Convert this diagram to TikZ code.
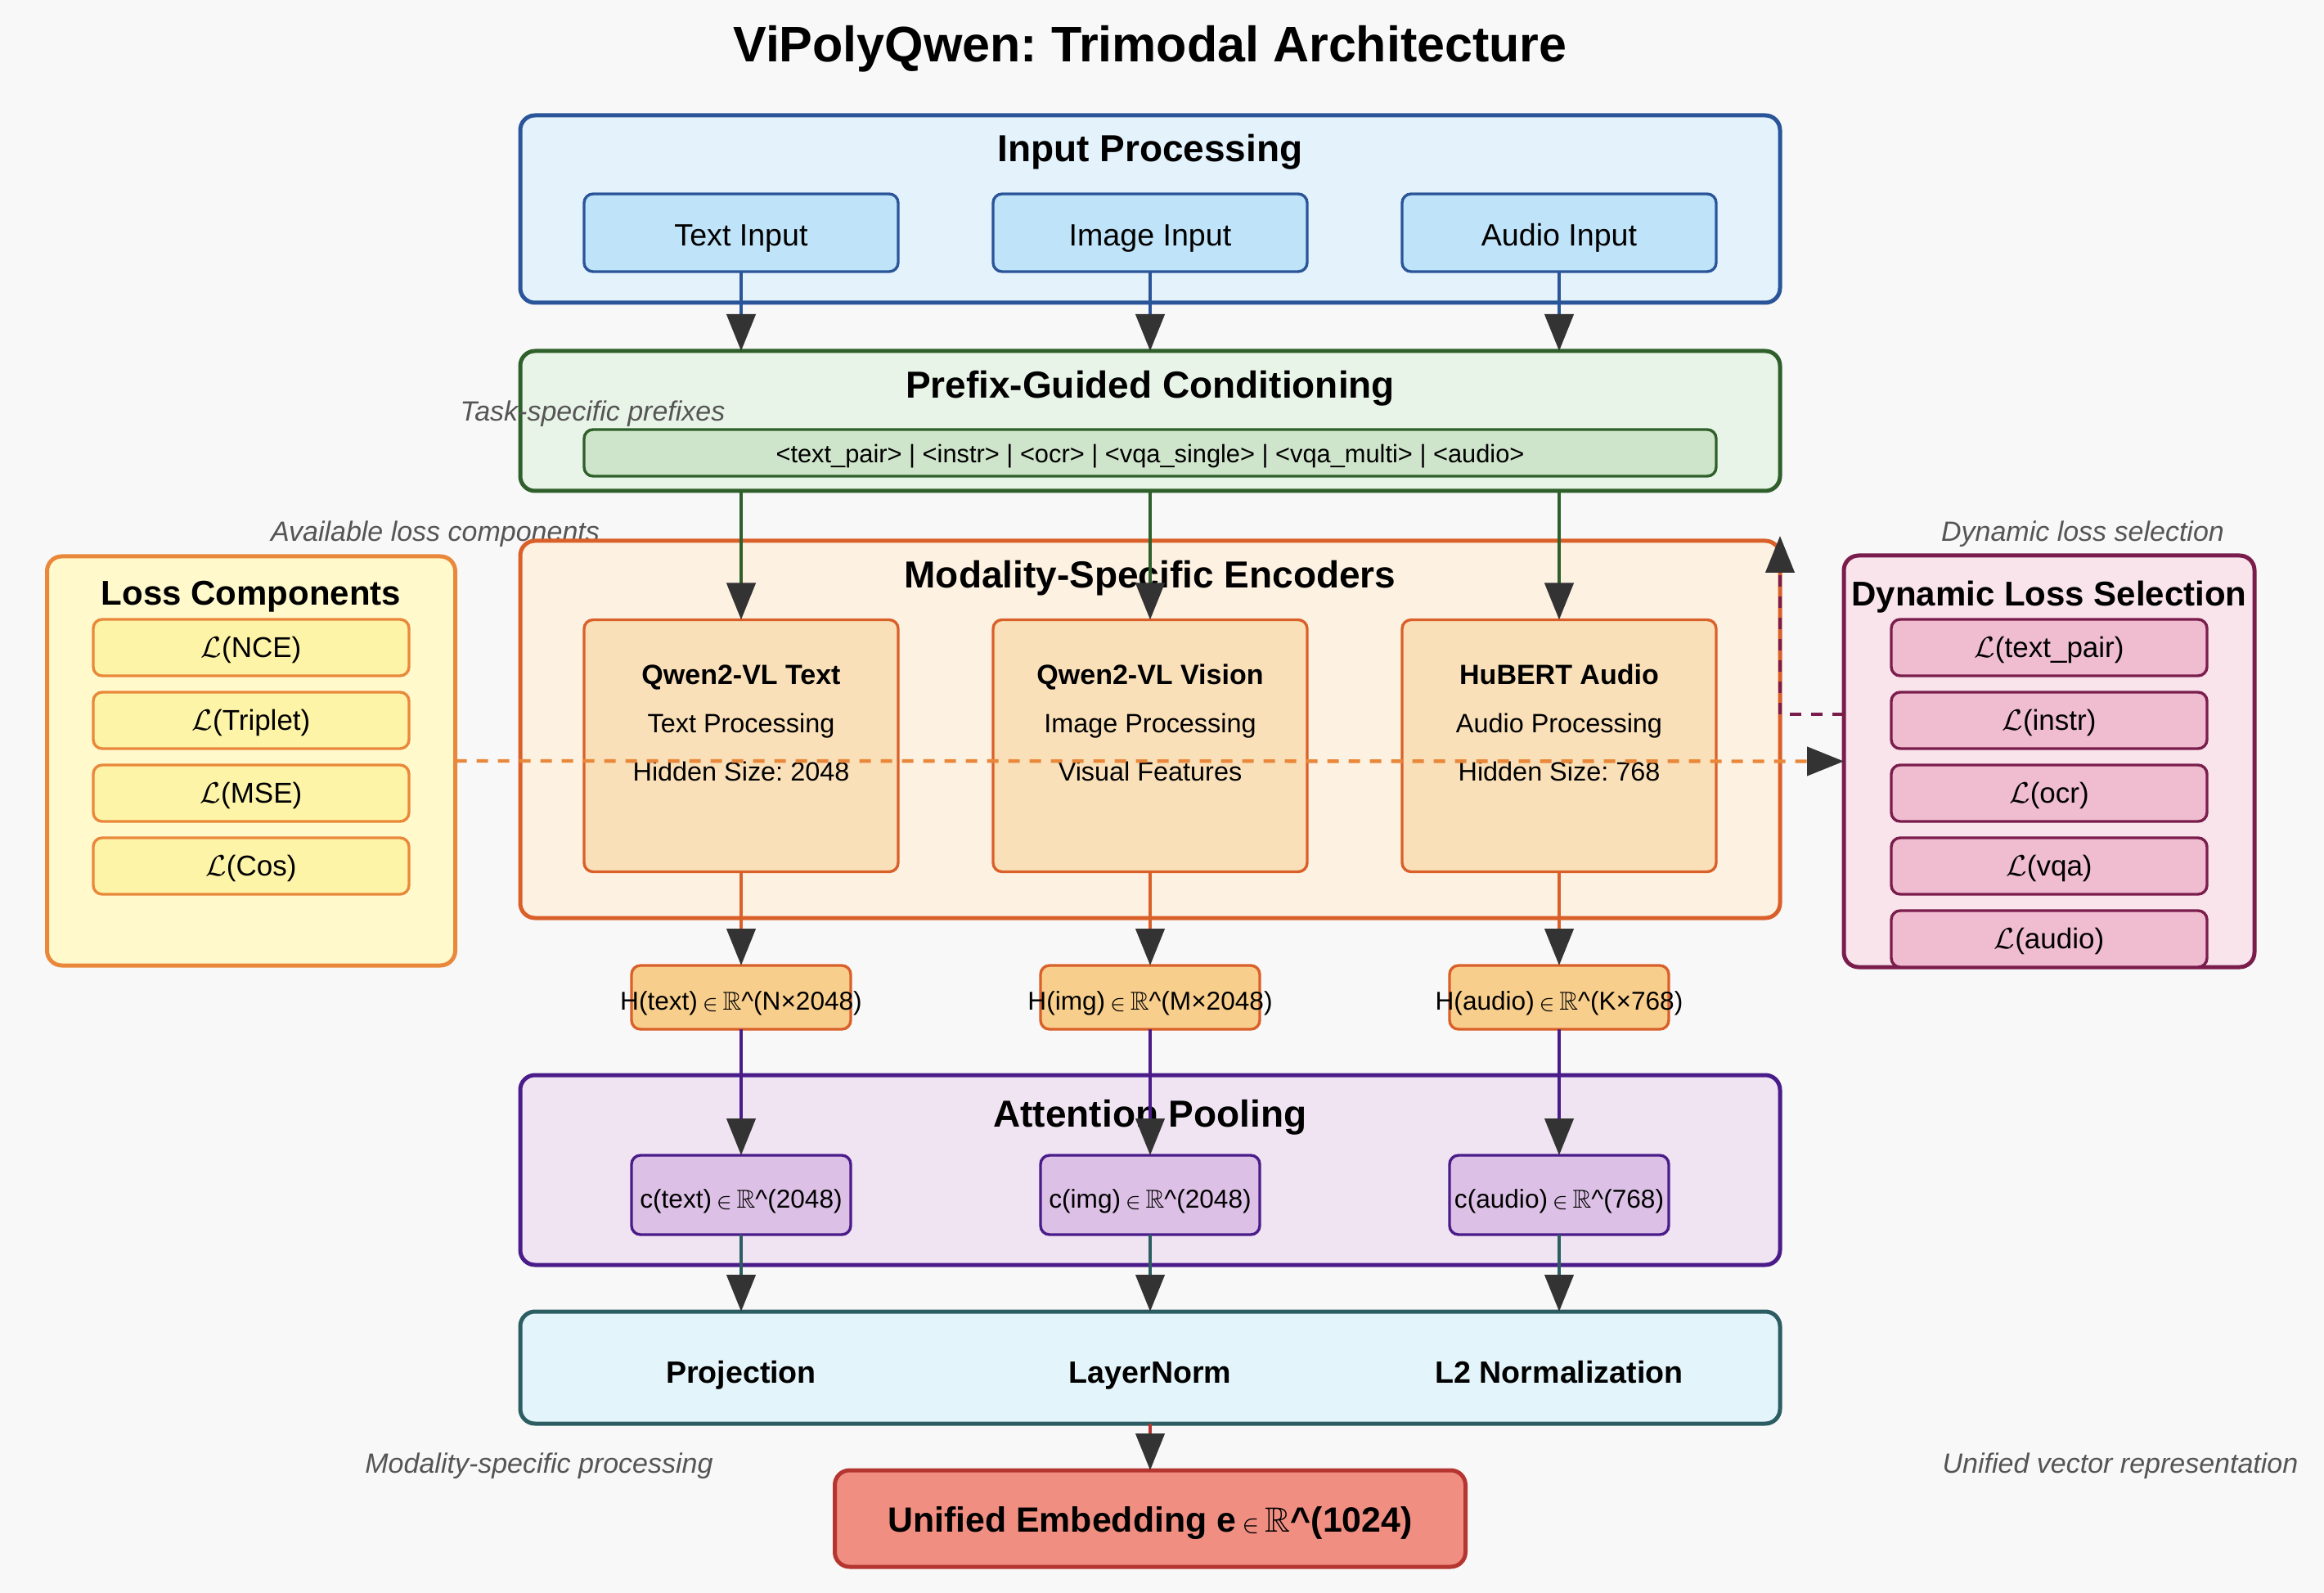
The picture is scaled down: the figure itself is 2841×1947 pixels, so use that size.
\documentclass[tikz,border=0pt]{standalone}
\usepackage{fontspec}
\setmainfont{Liberation Sans}
\usepackage{amssymb}
\usetikzlibrary{arrows.meta}
\definecolor{bgc}{HTML}{F8F8F8}
\definecolor{inF}{HTML}{E4F2FC}\definecolor{inS}{HTML}{2A5599}\definecolor{inI}{HTML}{BFE3F8}
\definecolor{prF}{HTML}{E9F4E8}\definecolor{prS}{HTML}{2F5F2A}\definecolor{prI}{HTML}{CFE5CB}
\definecolor{enF}{HTML}{FDF2E2}\definecolor{enS}{HTML}{DA602A}\definecolor{enI}{HTML}{FAE0B8}
\definecolor{hF}{HTML}{F8CE8C}
\definecolor{atF}{HTML}{F0E4F3}\definecolor{atS}{HTML}{4A1C8A}\definecolor{atI}{HTML}{DCC0E5}
\definecolor{pjF}{HTML}{E3F5FA}\definecolor{pjS}{HTML}{2B5D62}
\definecolor{unF}{HTML}{F08E82}\definecolor{unS}{HTML}{B53630}
\definecolor{lsF}{HTML}{FFF9CC}\definecolor{lsS}{HTML}{E9883A}\definecolor{lsI}{HTML}{FEF4A8}
\definecolor{dyF}{HTML}{F9E4EC}\definecolor{dyS}{HTML}{7A1D4C}\definecolor{dyI}{HTML}{F0BCD0}
\definecolor{notec}{HTML}{555555}
\definecolor{tipc}{HTML}{333333}
\newcommand{\inR}{\,$\scriptstyle\in$\,$\mathbb{R}$}
\newcommand{\Lsym}{$\mathcal{L}$}
\newcommand{\mycaret}{\textasciicircum}
\begin{document}
\frenchspacing
\begin{tikzpicture}[x=0.25pt,y=-0.25pt,
  every node/.append style={text height=0.9em, text depth=0.1em},
  box/.style={draw, rounded corners=4.5pt, line width=1.25pt, inner sep=0pt, outer sep=0pt},
  ibox/.style={draw, rounded corners=2.75pt, line width=0.85pt, inner sep=0pt, outer sep=0pt},
  ttl/.style={font=\fontsize{11.5}{13}\selectfont\bfseries},
  sttl/.style={font=\fontsize{10.5}{12}\selectfont\bfseries},
  note/.style={font=\fontsize{8.5}{10}\selectfont\itshape, text=notec},
  inlab/.style={font=\fontsize{9.4}{11}\selectfont},
  enb/.style={font=\fontsize{8.5}{10}\selectfont\bfseries},
  enr/.style={font=\fontsize{8.1}{10}\selectfont},
  hlab/.style={font=\fontsize{7.9}{9}\selectfont, inner sep=0pt},
  lslab/.style={font=\fontsize{8.75}{10}\selectfont, text height=0.8em, text depth=0.2em},
  pjlab/.style={font=\fontsize{9.4}{11}\selectfont\bfseries},
  conn/.style={line width=1.1pt, -{Triangle[width=8.75pt,length=11.25pt,color=tipc]}},
  dconn/.style={conn, dash pattern=on 3.5pt off 3pt}
]
\fill[bgc] (0,0) rectangle (2841,1947);
\useasboundingbox (0,0) rectangle (2841,1947);

% title
\node[font=\fontsize{15.25}{18}\selectfont\bfseries] (title) at (1406,60) {ViPolyQwen: Trimodal Architecture};

% Input processing
\node[box, draw=inS, fill=inF, minimum width=385pt, minimum height=57.25pt] (inBox) at (1406,255.5) {};
\node[ttl] (inTtl) at (1406,182) {Input Processing};
\node[ibox, draw=inS, fill=inI, minimum width=96pt, minimum height=23.75pt, inlab] (tIn) at (906,284.5) {Text Input};
\node[ibox, draw=inS, fill=inI, minimum width=96pt, minimum height=23.75pt, inlab] (iIn) at (1406,284.5) {Image Input};
\node[ibox, draw=inS, fill=inI, minimum width=96pt, minimum height=23.75pt, inlab] (aIn) at (1906,284.5) {Audio Input};

% Prefix
\node[box, draw=prS, fill=prF, minimum width=385pt, minimum height=42.75pt] (prBox) at (1406,514.5) {};
\node[ttl] (prTtl) at (1406,471) {Prefix-Guided Conditioning};
\node[ibox, draw=prS, fill=prI, minimum width=346pt, minimum height=14.25pt, font=\fontsize{7.7}{9}\selectfont, text height=0.8em, text depth=0.2em] (prIn) at (1406,553.5) {<text\_pair> | <instr> | <ocr> | <vqa\_single> | <vqa\_multi> | <audio>};
\node[note] (nTask) at (724.5,499) {Task-specific prefixes};

% notes
\node[note] (nAvail) at (532,646) {Available loss components};
\node[note] (nDyn) at (2546,646) {Dynamic loss selection};

% Encoders
\node[box, draw=enS, fill=enF, minimum width=385pt, minimum height=115.25pt] (encBox) at (1406,891.5) {};
\node[ttl] (encTtl) at (1406,703) {Modality-Specific Encoders};
\foreach \n/\x/\a/\b/\c in {eT/906/Qwen2-VL Text/Text Processing/Hidden Size: 2048,
                         eI/1406/Qwen2-VL Vision/Image Processing/Visual Features,
                         eA/1906/HuBERT Audio/Audio Processing/Hidden Size: 768}{
  \node[ibox, draw=enS, fill=enI, minimum width=96pt, minimum height=77pt] (\n) at (\x,911.5) {};
  \node[enb] (\n1) at (\x,821) {\a};
  \node[enr] (\n2) at (\x,880) {\b};
  \node[enr] (\n3) at (\x,939) {\c};
}

% Loss components
\node[box, draw=lsS, fill=lsF, minimum width=124.75pt, minimum height=125pt] (loss) at (307,930) {};
\node[sttl] (lossTtl) at (307,724) {Loss Components};
\foreach \n/\y/\t in {l1/791.5/NCE, l2/880.5/Triplet, l3/969.5/MSE, l4/1058.5/Cos}{
  \node[ibox, draw=lsS, fill=lsI, minimum width=96.5pt, minimum height=17.25pt, lslab] (\n) at (307,\y) {\Lsym(\t)};
}

% Dynamic loss selection
\node[box, draw=dyS, fill=dyF, minimum width=125.5pt, minimum height=125.75pt] (dyn) at (2505,930.5) {};
\node[sttl] (dynTtl) at (2505,725) {Dynamic Loss Selection};
\foreach \n/\y/\t in {d1/791.5/text\_pair, d2/880.5/instr, d3/969.5/ocr, d4/1058.5/vqa, d5/1147.5/audio}{
  \node[ibox, draw=dyS, fill=dyI, minimum width=96.5pt, minimum height=17.25pt, lslab] (\n) at (2505,\y) {\Lsym(\t)};
}

% H boxes (text may overflow the box)
\foreach \n/\x/\t in {hT/906/H(text)\inR\mycaret(N×2048), hI/1406/H(img)\inR\mycaret(M×2048), hA/1906/H(audio)\inR\mycaret(K×768)}{
  \node[ibox, draw=enS, fill=hF, minimum width=67pt, minimum height=19.5pt] (\n) at (\x,1219) {};
  \node[hlab] (\n t) at (\x,1219) {\t};
}

% Attention pooling
\node[box, draw=atS, fill=atF, minimum width=385pt, minimum height=58pt] (attBox) at (1406,1430) {};
\node[ttl] (attTtl) at (1406,1361) {Attention Pooling};
\foreach \n/\x/\t in {cT/906/c(text)\inR\mycaret(2048), cI/1406/c(img)\inR\mycaret(2048), cA/1906/c(audio)\inR\mycaret(768)}{
  \node[ibox, draw=atS, fill=atI, minimum width=67pt, minimum height=24.25pt] (\n) at (\x,1460.5) {};
  \node[hlab] (\n t) at (\x,1460.5) {\t};
}

% Projection
\node[box, draw=pjS, fill=pjF, minimum width=385pt, minimum height=34.25pt] (projBox) at (1406,1671.5) {};
\node[pjlab] (pj1) at (906,1674) {Projection};
\node[pjlab] (pj2) at (1406,1674) {LayerNorm};
\node[pjlab] (pj3) at (1906,1674) {L2 Normalization};
\node[note] (nMod) at (659,1784) {Modality-specific processing};
\node[note] (nUni) at (2592,1784) {Unified vector representation};

% Unified
\node[box, draw=unS, fill=unF, minimum width=192.75pt, minimum height=29.5pt, font=\fontsize{10.7}{12}\selectfont\bfseries] (uni) at (1406,1856) {Unified Embedding e\inR\mycaret(1024)};

% connectors
\foreach \a/\e/\h/\c in {tIn/eT/hT/cT, iIn/eI/hI/cI, aIn/eA/hA/cA}{
  \draw[conn, inS] (\a.south) -- (\a |- prBox.north);
  \draw[conn, prS] (\e |- prBox.south) -- (\e.north);
  \draw[conn, enS] (\e.south) -- (\h.north);
  \draw[conn, atS] (\h.south) -- (\c.north);
  \draw[conn, pjS] (\c.south) -- (\c |- projBox.north);
}
\draw[conn, unS] (projBox.south) -- (uni.north);
\draw[dconn, lsS] (loss.east) -- (dyn.west);
\draw[dconn, dyS] ([yshift=14.4pt]dyn.west) -| ([yshift=1.5pt]encBox.north east);
\end{tikzpicture}
\end{document}
